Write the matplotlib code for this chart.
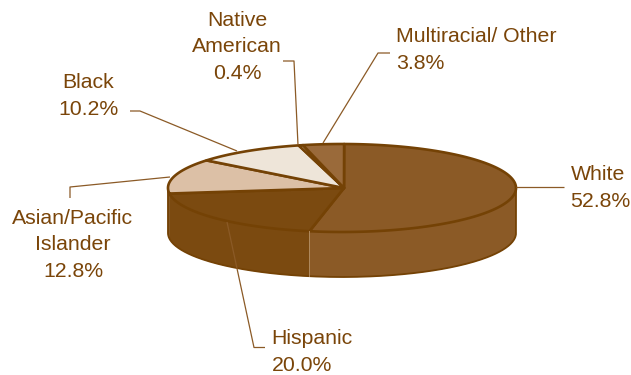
import numpy as np
import matplotlib
matplotlib.use('Agg')
import matplotlib.pyplot as plt
from matplotlib.patches import Polygon

plt.rcParams['font.family'] = ['Liberation Sans', 'DejaVu Sans']

# Datos
labels = ['White', 'Hispanic', 'Asian/Pacific\nIslander', 'Black', 'Native\nAmerican', 'Multiracial/ Other']
shares = [52.8, 20.0, 12.8, 10.2, 0.4, 3.8]
top_colors = ['#8B5A26', '#7B4A10', '#DCC0A6', '#EEE5D9', '#EEE5D9', '#9A6A3A']
side_colors = ['#8B5A26', '#7B4A10', '#7B4A10', '#7B4A10', '#7B4A10', '#7B4A10']

W, H = 631, 375
CX, CY, RX, RY, DEPTH = 342, 188, 174, 44, 45
START = 0.7
EDGE = '#744205'
TEXT = '#7A4509'
LINE = '#8B5A26'


def ellipse(a_deg, dy=0):
    # angulo en sentido horario desde las 12
    a = np.radians(a_deg)
    return np.column_stack([CX + RX * np.sin(a), CY - RY * np.cos(a) + dy])


fig = plt.figure(figsize=(W / 100, H / 100), dpi=100)
ax = fig.add_axes([0, 0, 1, 1])
ax.set_xlim(0, W)
ax.set_ylim(H, 0)
ax.axis('off')

edges = START + np.concatenate([[0], np.cumsum(shares)]) * 3.6

# Lateral visible (entre 90 y 270 grados)
for i in range(len(shares)):
    a0, a1 = max(edges[i], 90), min(edges[i + 1], 270)
    if a1 <= a0:
        continue
    t = np.linspace(a0, a1, 80)
    pts = np.vstack([ellipse(t), ellipse(t[::-1], DEPTH)])
    ax.add_patch(Polygon(pts, closed=True, fc=side_colors[i], ec=side_colors[i], lw=0.3))

# Contorno del lateral
t = np.linspace(90, 270, 200)
outline = np.vstack([ellipse([90]), ellipse(t, DEPTH), ellipse([270])])
ax.plot(outline[:, 0], outline[:, 1], color=EDGE, lw=1.3, solid_joinstyle='round')

# Costura clara blanco / hispano
seam = np.vstack([ellipse([edges[1]]), ellipse([edges[1]], DEPTH)])
ax.plot(seam[:, 0], seam[:, 1], color='#B08A5E', lw=0.7)

# Lineas guia
leaders = [
    ([516, 564], [187, 187]),
    ([227, 254, 265], [222, 347.5, 347.5]),
    ([170, 70, 70], [177, 187, 198]),
    ([237, 140, 130], [151, 111, 111]),
    ([298, 294, 283], [145, 61, 61]),
    ([323, 378, 390], [143, 53, 53]),
]
for xs, ys in leaders:
    ax.plot(xs, ys, color=LINE, lw=0.9, solid_capstyle='butt')

# Cara superior
for i in range(len(shares)):
    t = np.linspace(edges[i], edges[i + 1], 120)
    pts = np.vstack([[CX + 2, CY], ellipse(t)])
    ax.add_patch(Polygon(pts, closed=True, fc=top_colors[i], ec=EDGE, lw=1.9, joinstyle='round'))

# Etiquetas
text_pos = [(570.5, 188), (271.5, 352), (73, 245), (88, 96), (237, 47), (396.5, 50)]
text_align = ['left', 'left', 'center', 'center', 'center', 'left']
for name, share, (x, y), align in zip(labels, shares, text_pos, text_align):
    ax.text(x, y, f'{name}\n{share:.1f}%', ha=align, va='center', ma=align, fontsize=15.3,
            color=TEXT, linespacing=1.5)

fig.savefig('out.png', dpi=100)
